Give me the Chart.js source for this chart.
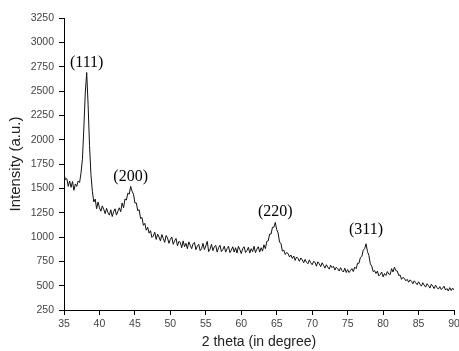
<!DOCTYPE html>
<html>
<head>
<meta charset="utf-8">
<script src="https://cdn.jsdelivr.net/npm/chart.js@4"></script>
<style>
  html, body { margin: 0; padding: 0; background: #fff; }
  #wrap { width: 459px; height: 351px; }
</style>
</head>
<body>
<div id="wrap"><canvas id="xrdChart" width="459" height="351"></canvas></div>
<script>
// scan settings: 2 theta from 35 deg in 0.2 deg steps
const startAngle = 35;
const stepAngle = 0.2;

// intensity, one row per degree (x.0, x.2, x.4, x.6, x.8)
const intensity = [
  1650, 1590, 1600, 1520, 1575,
  1510, 1570, 1480, 1545, 1520,
  1575, 1560, 1660, 1800, 2120,
  2480, 2690, 2360, 1940, 1640,
  1470, 1360, 1390, 1290, 1360,
  1300, 1265, 1320, 1285, 1240,
  1295, 1250, 1225, 1280, 1210,
  1260, 1290, 1225, 1265, 1300,
  1260, 1350, 1300, 1390, 1380,
  1450, 1440, 1520, 1470, 1440,
  1350, 1350, 1270, 1280, 1190,
  1200, 1120, 1140, 1070, 1100,
  1040, 1065, 995, 1010, 1050,
  975, 1030, 1000, 960, 1025,
  985, 945, 1015, 990, 935,
  975, 1000, 925, 960, 985,
  910, 955, 945, 890, 960,
  900, 935, 880, 950, 915,
  880, 930, 945, 870, 905,
  925, 860, 880, 935, 870,
  910, 955, 850, 875, 925,
  860, 900, 915, 845, 890,
  915, 850, 870, 905, 845,
  880, 905, 840, 865, 900,
  845, 890, 835, 905, 870,
  830, 880, 900, 840, 860,
  895, 835, 880, 850, 905,
  840, 875, 900, 845, 890,
  855, 920, 880, 955, 960,
  1030, 1030, 1100, 1100, 1150,
  1075, 1040, 945, 935, 855,
  865, 820, 840, 830, 795,
  815, 780, 805, 760, 795,
  780, 750, 785, 765, 735,
  770, 740, 725, 765, 735,
  715, 750, 740, 700, 745,
  725, 695, 735, 710, 680,
  715, 690, 670, 710, 685,
  700, 660, 690, 675, 650,
  685, 655, 640, 680, 635,
  665, 635, 655, 675, 645,
  690, 675, 730, 730, 790,
  800, 865, 880, 930, 850,
  810, 725, 700, 645, 655,
  625, 650, 600, 615, 640,
  590, 625, 605, 645, 620,
  615, 675, 640, 690, 655,
  650, 605, 610, 565, 585,
  575, 550, 565, 535, 560,
  545, 520, 550, 530, 510,
  540, 515, 495, 530, 505,
  485, 520, 500, 475, 515,
  495, 470, 505, 480, 465,
  490, 460, 475, 495, 455,
  470, 445, 480, 450, 475,
  455
];

// peak labels (Miller indices) and where they sit
const peakLabels = ["(111)", "(200)", "(220)", "(311)"];
const peakAngles = [38.2, 44.4, 64.8, 77.6];
const peakLabelHeights = [2790, 1615, 1255, 1075];

const points = intensity.map((v, i) => ({
  x: +(startAngle + i * stepAngle).toFixed(1),
  y: v,
}));

// draws the hkl labels above the peaks
const peakLabelPlugin = {
  id: "peakLabels",
  afterDatasetsDraw(chart) {
    const ctx = chart.ctx;
    const xs = chart.scales.x;
    const ys = chart.scales.y;
    ctx.save();
    ctx.font = "16px 'Liberation Serif'";
    ctx.fillStyle = "#000";
    ctx.textAlign = "center";
    ctx.textBaseline = "middle";
    peakLabels.forEach((lbl, i) => {
      ctx.fillText(lbl, xs.getPixelForValue(peakAngles[i]), ys.getPixelForValue(peakLabelHeights[i]));
    });
    ctx.restore();
  },
};

const tickFont = { family: "'Liberation Sans'", size: 10.5 };
const plainNumber = (value) => String(value);

new Chart(document.getElementById("xrdChart").getContext("2d"), {
  type: "line",
  data: {
    datasets: [
      {
        data: points,
        borderColor: "#111",
        borderWidth: 1,
        pointRadius: 0,
        tension: 0,
        fill: false,
      },
    ],
  },
  options: {
    responsive: false,
    animation: false,
    layout: { padding: { top: 18, right: 5, left: 0, bottom: 0 } },
    plugins: {
      legend: { display: false },
      tooltip: { enabled: false },
    },
    scales: {
      x: {
        type: "linear",
        min: 35,
        max: 90,
        ticks: { stepSize: 5, color: "#444", font: tickFont, padding: 3, maxRotation: 0, callback: plainNumber },
        grid: { drawOnChartArea: false, tickLength: 5, tickColor: "#000" },
        border: { color: "#000", width: 1 },
        title: {
          display: true,
          text: "2 theta (in degree)",
          color: "#222",
          font: { family: "'Liberation Sans'", size: 14 },
          padding: { top: 0, bottom: 0 },
        },
        afterFit(scale) {
          scale.height = 41;
          scale.paddingLeft = 0;
          scale.paddingRight = 0;
        },
      },
      y: {
        min: 250,
        max: 3250,
        ticks: { stepSize: 250, color: "#444", font: tickFont, padding: 5, callback: plainNumber },
        grid: { drawOnChartArea: false, tickLength: 5, tickColor: "#000" },
        border: { color: "#000", width: 1 },
        title: {
          display: true,
          text: "Intensity (a.u.)",
          color: "#222",
          font: { family: "'Liberation Sans'", size: 15 },
          padding: { top: 7, bottom: 0 },
        },
        afterFit(scale) {
          scale.width = 64;
        },
      },
    },
  },
  plugins: [peakLabelPlugin],
});
</script>
</body>
</html>
